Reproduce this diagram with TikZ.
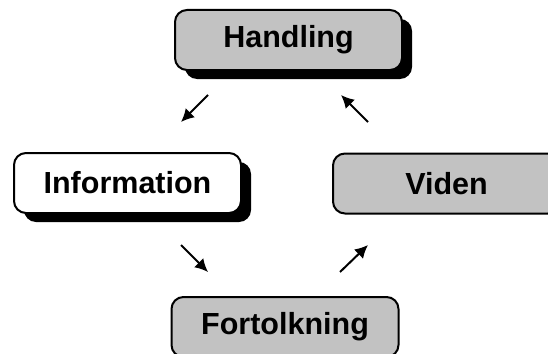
\documentclass[tikz,border=0pt]{standalone}
\usepackage{fontspec}
\setmainfont{Liberation Sans}
\usetikzlibrary{shadows,arrows.meta}

\begin{document}
\begin{tikzpicture}[x=1pt, y=-1pt,
    stage/.style={draw, line width=2pt, rounded corners=12pt, inner sep=0pt,
        minimum width=227pt, minimum height=60pt,
        font=\fontsize{30.5}{36}\selectfont\bfseries},
    shade/.style={drop shadow={shadow xshift=10pt, shadow yshift=-9pt, fill=black, opacity=1}},
    arr/.style={line width=2pt, -{Latex[length=13pt, width=13pt]}}]

    \clip (0,0) rectangle (548,353);
    \useasboundingbox (0,0) rectangle (548,353);

    % the four boxes
    \node[stage, fill=lightgray!95!white, shade] (hand) at (288.5,40) {Handling};
    \node[stage, fill=white, shade] (info) at (127.5,183) {Information};
    \node[stage, fill=lightgray!95!white] (viden) at (446.5,183.5) {Viden};
    \node[stage, fill=lightgray!95!white] (fort) at (285,327) {Fortolkning};

    % arrow ends
    \coordinate (a1) at (208,95);   \coordinate (b1) at (181,122);
    \coordinate (a2) at (368,122);  \coordinate (b2) at (341,95);
    \coordinate (a3) at (181,245);  \coordinate (b3) at (208,272);
    \coordinate (a4) at (340,272);  \coordinate (b4) at (368,245);

    \draw[arr] (a1) -- (b1);
    \draw[arr] (a2) -- (b2);
    \draw[arr] (a3) -- (b3);
    \draw[arr] (a4) -- (b4);

\end{tikzpicture}
\end{document}
